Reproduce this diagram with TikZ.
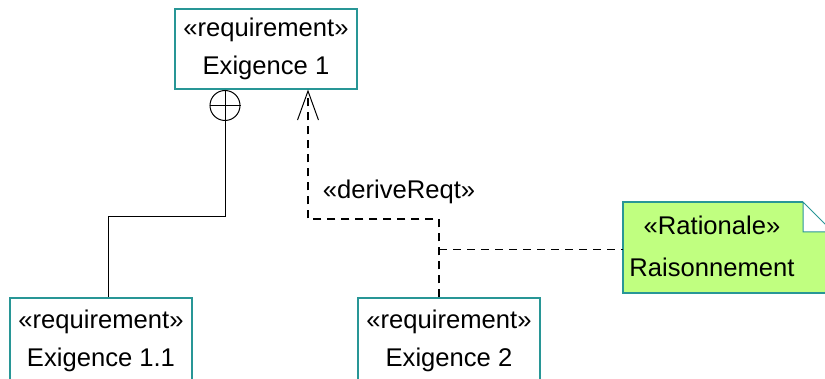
\documentclass[tikz,border=0pt]{standalone}
\usepackage{fontspec}
\setmainfont{Liberation Sans}
\usepackage{xcolor}
\usepackage{tikz}
\usetikzlibrary{calc,arrows.meta,positioning}
\definecolor{reqline}{RGB}{40,150,150}
\definecolor{notegreen}{RGB}{192,255,128}

\begin{document}
\begin{tikzpicture}[x=0.5pt,y=-0.5pt,
  req/.style={draw=reqline,line width=0.6pt,fill=white,minimum width=91pt,
    align=center,font=\fontsize{12.8}{19}\selectfont},
  link/.style={line width=0.5pt},
  derive/.style={line width=0.6pt,dash pattern=on 4pt off 3pt,
    -{Straight Barb[length=14.5pt,width=10.5pt,line width=0.5pt]}},
  txt/.style={font=\fontsize{12.8}{21}\selectfont,align=center}]
  \useasboundingbox (0,0) rectangle (825,379);
  % requirements
  \node[req,minimum height=40pt] (e1) at (266,49) {«requirement»\\Exigence 1};
  \node[req,minimum height=43pt] (e11) at (101,341) {«requirement»\\Exigence 1.1};
  \node[req,minimum height=43pt] (e2) at (449,341) {«requirement»\\Exigence 2};
  % rationale note
  \fill[notegreen] (623,202) -- (803,202) -- (833,232) -- (833,293) -- (623,293) -- cycle;
  \draw[reqline,line width=0.6pt] (803,202) -- (623,202) -- (623,293) -- (833,293);
  \filldraw[fill=white,draw=reqline,line width=0.5pt] (803,202) -- (833,232) -- (803,232) -- cycle;
  \node[txt] (rat) at (712,246) {«Rationale»\\Raisonnement};
  % containment
  \node[draw,circle,link,minimum size=15pt,inner sep=0pt,anchor=north] (cp) at (225,90) {};
  \draw[link] (cp.north) -- (cp.south) (cp.west) -- (cp.east);
  \coordinate (k1) at (108,217);
  \draw[link] (cp.south) |- (k1) -- (k1 |- e11.north);
  % deriveReqt
  \coordinate (k2) at (439,219);
  \coordinate (k3) at (308,219);
  \draw[derive] (k2 |- e2.north) -- (k2) -- (k3) -- (k3 |- e1.south);
  \node[txt] (lbl) at (399,192) {«deriveReqt»};
  \coordinate (k4) at (439,250);
  \draw[link,dash pattern=on 4pt off 3pt] (k4) -- (k4 -| 623,0);
\end{tikzpicture}
\end{document}
